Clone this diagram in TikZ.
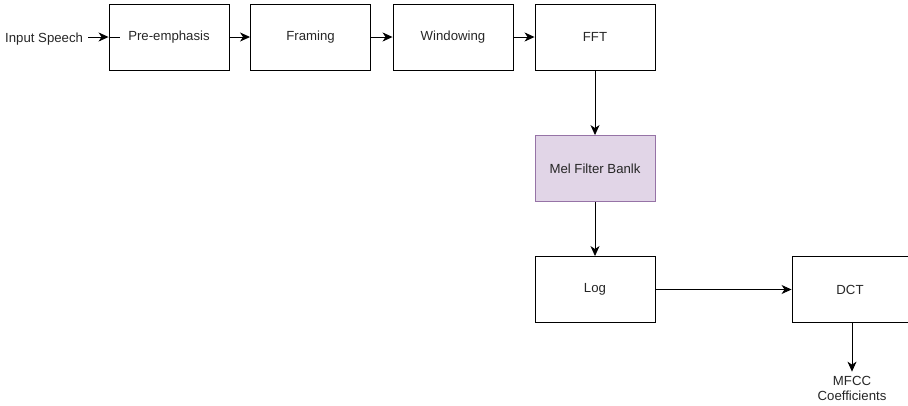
\documentclass[tikz,border=0pt]{standalone}
\usepackage{fontspec}
\setmainfont{Liberation Sans}
\usetikzlibrary{arrows.meta}
\definecolor{melfill}{HTML}{E1D5E7}
\definecolor{meldraw}{HTML}{9673A6}
\begin{document}
\begin{tikzpicture}[x=1pt,y=-1pt,
  box/.style={draw=black,line width=0.9pt,minimum width=120pt,minimum height=66pt,inner sep=0pt,font=\fontsize{13.2}{15}\selectfont,text=black!85},
  lbl/.style={font=\fontsize{13.2}{15}\selectfont,text=black!85,inner sep=0pt,align=center},
  arr/.style={line width=0.9pt,-{Stealth[length=10pt,width=9pt,inset=3pt]}}]
\useasboundingbox (0,0) rectangle (908,405);
\node[lbl,anchor=west] (in) at (5,39) {Input Speech};
\node[box] (pre) at (169,37) {Pre-emphasis};
\node[box] (fra) at (310.5,37) {Framing};
\node[box] (win) at (453,37) {Windowing};
\node[box] (fft) at (595,37) {FFT};
\node[box,fill=melfill,draw=meldraw] (mel) at (595,168.5) {Mel Filter Banlk};
\node[box] (log) at (595,289.5) {Log};
\node[box,minimum width=116pt] (dct) at (850,289.5) {DCT};
\node[lbl,font=\fontsize{13.2}{15}\selectfont] (mfcc) at (852,388) {MFCC\\Coefficients};
\coordinate (inend) at (120,37);
\draw[arr] ([xshift=5pt]in.east |- pre.west) -- (pre.west);
\draw[line width=0.9pt] (pre.west) -- (inend);
\draw[arr] (pre) -- (fra);
\draw[arr] (fra) -- (win);
\draw[arr] (win) -- (fft);
\draw[arr] (fft) -- (mel);
\draw[arr] (mel) -- (log);
\draw[arr] (log) -- (dct);
\draw[arr,shorten >=4pt] (dct.south -| mfcc) -- (mfcc.north);
\end{tikzpicture}
\end{document}
